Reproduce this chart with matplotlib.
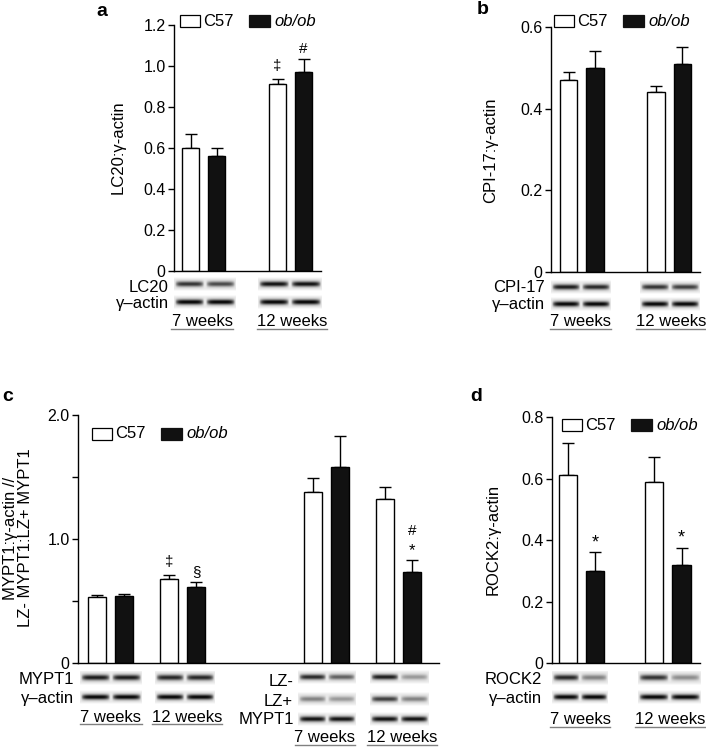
import numpy as np
import matplotlib
matplotlib.use("Agg")
import matplotlib.pyplot as plt
from matplotlib.patches import Rectangle
from matplotlib.lines import Line2D

plt.rcParams["font.family"] = ["Liberation Sans", "DejaVu Sans"]
plt.rcParams["font.size"] = 12

W, H = 706, 747
FS = 12  # text size used for labels in the figure

# ---- data ----
weeks = ["7 weeks", "12 weeks"]

lc20_c57 = [0.60, 0.91]
lc20_c57_err = [0.07, 0.025]
lc20_ob = [0.56, 0.97]
lc20_ob_err = [0.04, 0.065]

cpi17_c57 = [0.47, 0.44]
cpi17_c57_err = [0.02, 0.015]
cpi17_ob = [0.50, 0.51]
cpi17_ob_err = [0.04, 0.04]

# MYPT1:gamma-actin (7w, 12w) then LZ-:LZ+ (7w, 12w)
mypt1_c57 = [0.53, 0.68, 1.38, 1.32]
mypt1_c57_err = [0.02, 0.03, 0.11, 0.10]
mypt1_ob = [0.54, 0.61, 1.58, 0.73]
mypt1_ob_err = [0.02, 0.04, 0.25, 0.10]

rock2_c57 = [0.61, 0.59]
rock2_c57_err = [0.105, 0.08]
rock2_ob = [0.30, 0.32]
rock2_ob_err = [0.06, 0.055]

# blot band strengths per lane (C57, ob/ob) for each age
blot_lc20 = [[0.8, 0.7], [0.95, 0.95]]
blot_cpi17 = [[0.9, 0.85], [0.8, 0.75]]
blot_mypt1 = [[0.9, 0.9], [0.85, 0.85]]
blot_lzm = [[0.85, 0.6], [0.9, 0.35]]
blot_lzp = [[0.45, 0.35], [0.75, 0.45]]
blot_mypt1_tot = [[0.95, 0.95], [0.95, 0.95]]
blot_rock2 = [[0.85, 0.45], [0.8, 0.4]]
blot_actin = [[1.0, 1.0], [1.0, 1.0]]

fig = plt.figure(figsize=(W / 100, H / 100), dpi=100)


def add_ax(left, top, right, bottom):
    return fig.add_axes([left / W, 1 - bottom / H, (right - left) / W, (bottom - top) / H])


def fx(x):
    return x / W


def fy(y):
    return 1 - y / H


def bar_panel(ax, pos, c57, c57e, ob, obe, width, off, xlim, ylim, yticks, ylabels):
    pos = np.asarray(pos, dtype=float)
    ax.bar(pos - off, c57, width, color="white", edgecolor="black", linewidth=1, zorder=2)
    ax.bar(pos + off, ob, width, color="#111111", edgecolor="black", linewidth=1, zorder=2)
    for xs, v, e in [(pos - off, c57, c57e), (pos + off, ob, obe)]:
        ax.errorbar(xs, v, yerr=[np.zeros(len(v)), e], fmt="none", ecolor="black",
                    elinewidth=1, capsize=4, capthick=1, zorder=1)
    ax.set_xlim(*xlim)
    ax.set_ylim(*ylim)
    ax.set_yticks(yticks)
    ax.set_yticklabels(ylabels)
    ax.set_xticks([])
    for s in ["top", "right"]:
        ax.spines[s].set_visible(False)
    ax.spines["left"].set_linewidth(1)
    ax.spines["bottom"].set_linewidth(1)
    ax.tick_params(axis="y", direction="out", length=4, width=1, labelsize=11.5, pad=2)


def legend(x, yc):
    fig.add_artist(Rectangle((fx(x), fy(yc + 6)), 20 / W, 12 / H, transform=fig.transFigure,
                             facecolor="white", edgecolor="black", linewidth=0.9))
    fig.text(fx(x + 23), fy(yc), "C57", ha="left", va="center", fontsize=FS)
    fig.add_artist(Rectangle((fx(x + 69), fy(yc + 6)), 21 / W, 12 / H, transform=fig.transFigure,
                             facecolor="#111111", edgecolor="#111111", linewidth=0.9))
    fig.text(fx(x + 94), fy(yc), "ob/ob", ha="left", va="center", fontsize=FS, style="italic")


def blot(x0, x1, yc, inten, h=14):
    ncol = int((x1 - x0) * 4)
    nrow = h * 4
    u = np.linspace(0, len(inten), ncol, endpoint=False)
    lane = np.floor(u).astype(int)
    frac = u - lane
    env = np.clip(1 - np.abs((frac - 0.5) / 0.47) ** 6, 0, 1)
    yy = np.linspace(-1, 1, nrow)
    prof = np.exp(-(yy / 0.38) ** 2)
    amp = np.asarray(inten)[lane] * env
    img = 0.91 - 0.9 * np.outer(prof, amp)
    edge = np.exp(-(yy / 0.9) ** 8)
    img = 1 - (1 - img) * edge[:, None]
    bax = add_ax(x0, yc - h / 2, x1, yc + h / 2)
    bax.imshow(np.clip(img, 0, 1), cmap="gray", vmin=0, vmax=1, aspect="auto",
               interpolation="bilinear")
    bax.axis("off")


def blot_label(xr, yc, s):
    fig.text(fx(xr), fy(yc), s, ha="right", va="center", fontsize=FS)


def weeks_label(x0, x1, yc, s):
    fig.text(fx((x0 + x1) / 2), fy(yc), s, ha="center", va="center", fontsize=FS)
    fig.add_artist(Line2D([fx(x0), fx(x1)], [fy(yc + 7), fy(yc + 7)], transform=fig.transFigure,
                          color="#808080", linewidth=1))


# ---------- panel a ----------
ax_a = add_ax(174, 25, 321, 271)
bar_panel(ax_a, [0, 1], lc20_c57, lc20_c57_err, lc20_ob, lc20_ob_err, 0.2, 0.15,
          (-0.34, 1.35), (0, 1.2), [0, 0.2, 0.4, 0.6, 0.8, 1.0, 1.2],
          ["0", "0.2", "0.4", "0.6", "0.8", "1.0", "1.2"])
ax_a.text(1 - 0.15, lc20_c57[1] + lc20_c57_err[1] + 0.065, "‡", ha="center", va="center", fontsize=11)
ax_a.text(1 + 0.15, lc20_ob[1] + lc20_ob_err[1] + 0.05, "#", ha="center", va="center", fontsize=11)
fig.text(fx(118), fy(147), "LC20:γ-actin", rotation=90, ha="center", va="center", fontsize=FS)
legend(180, 21)
fig.text(fx(102), fy(11), "a", ha="center", va="center", fontsize=14, weight="bold")
blot(174, 236, 284, blot_lc20[0])
blot(258, 322, 284, blot_lc20[1])
blot(174, 236, 302, blot_actin[0])
blot(258, 322, 302, blot_actin[1])
blot_label(169, 287, "LC20")
blot_label(169, 304, "γ–actin")
weeks_label(171, 233, 322, weeks[0])
weeks_label(257, 327, 322, weeks[1])

# ---------- panel b ----------
ax_b = add_ax(551, 27, 700, 272)
bar_panel(ax_b, [0, 1], cpi17_c57, cpi17_c57_err, cpi17_ob, cpi17_ob_err, 0.2, 0.15,
          (-0.35, 1.35), (0, 0.6), [0, 0.2, 0.4, 0.6], ["0", "0.2", "0.4", "0.6"])
fig.text(fx(491), fy(150), "CPI-17:γ-actin", rotation=90, ha="center", va="center", fontsize=FS)
legend(554, 21)
fig.text(fx(483), fy(10), "b", ha="center", va="center", fontsize=14, weight="bold")
blot(551, 611, 287, blot_cpi17[0])
blot(640, 700, 287, blot_cpi17[1])
blot(551, 611, 304, blot_actin[0])
blot(640, 700, 304, blot_actin[1])
blot_label(545, 288, "CPI-17")
blot_label(545, 305, "γ–actin")
weeks_label(550, 611, 322, weeks[0])
weeks_label(636, 706, 322, weeks[1])

# ---------- panel c ----------
ax_c = add_ax(78, 415, 439, 663)
bar_panel(ax_c, [0, 1, 3, 4], mypt1_c57, mypt1_c57_err, mypt1_ob, mypt1_ob_err, 0.25, 0.19,
          (-0.45, 4.56), (0, 2.0), [0, 0.5, 1.0, 1.5, 2.0], ["0", "", "1.0", "", "2.0"])
ax_c.text(1 - 0.19, 0.815, "‡", ha="center", va="center", fontsize=11)
ax_c.text(1 + 0.19, 0.73, "§", ha="center", va="center", fontsize=11)
ax_c.text(4 + 0.19, 1.01, "#", ha="center", va="bottom", fontsize=11)
ax_c.text(4 + 0.19, 0.845, "*", ha="center", va="bottom", fontsize=12)
fig.text(fx(18), fy(538), "MYPT1:γ-actin //\nLZ- MYPT1:LZ+ MYPT1", rotation=90,
         ha="center", va="center", fontsize=FS, multialignment="center", linespacing=1.0)
legend(92, 434)
fig.text(fx(8), fy(397), "c", ha="center", va="center", fontsize=14, weight="bold")
blot(80, 142, 678, blot_mypt1[0])
blot(155, 215, 678, blot_mypt1[1])
blot(80, 142, 697, blot_actin[0])
blot(155, 215, 697, blot_actin[1])
blot_label(74, 679, "MYPT1")
blot_label(74, 698, "γ–actin")
weeks_label(80, 142, 717, weeks[0])
weeks_label(152, 222, 717, weeks[1])
blot(298, 355, 677, blot_lzm[0])
blot(370, 428, 677, blot_lzm[1])
blot(298, 355, 699, blot_lzp[0])
blot(370, 428, 699, blot_lzp[1])
blot(298, 355, 719, blot_mypt1_tot[0])
blot(370, 428, 719, blot_mypt1_tot[1])
blot_label(293, 681, "LZ-")
blot_label(293, 702, "LZ+")
blot_label(294, 720, "MYPT1")
weeks_label(295, 355, 738, weeks[0])
weeks_label(367, 437, 738, weeks[1])

# ---------- panel d ----------
ax_d = add_ax(552, 417, 700, 663)
bar_panel(ax_d, [0, 1], rock2_c57, rock2_c57_err, rock2_ob, rock2_ob_err, 0.21, 0.157,
          (-0.34, 1.37), (0, 0.8), [0, 0.2, 0.4, 0.6, 0.8], ["0", "0.2", "0.4", "0.6", "0.8"])
for i in range(2):
    ax_d.text(i + 0.157, rock2_ob[i] + rock2_ob_err[i] + 0.03, "*", ha="center", va="center", fontsize=13)
fig.text(fx(493), fy(539), "ROCK2:γ-actin", rotation=90, ha="center", va="center", fontsize=FS)
legend(562, 425)
fig.text(fx(476), fy(397), "d", ha="center", va="center", fontsize=14, weight="bold")
blot(552, 608, 678, blot_rock2[0])
blot(638, 701, 678, blot_rock2[1])
blot(552, 608, 697, blot_actin[0])
blot(638, 701, 697, blot_actin[1])
blot_label(542, 679, "ROCK2")
blot_label(542, 698, "γ–actin")
weeks_label(550, 610, 720, weeks[0])
weeks_label(635, 705, 720, weeks[1])

fig.savefig("out.png", dpi=100)
